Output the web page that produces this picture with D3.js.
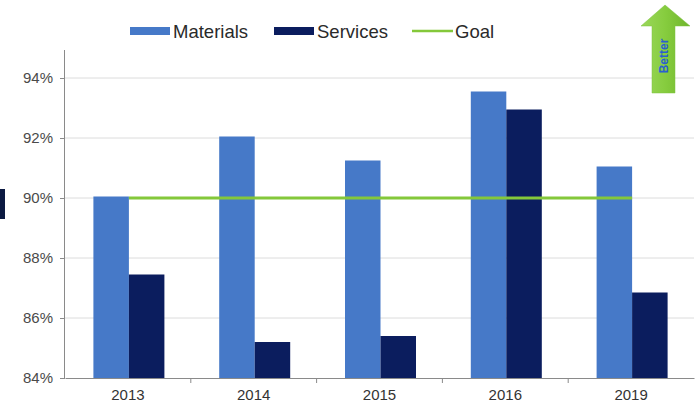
<!DOCTYPE html>
<html>
<head>
<meta charset="utf-8">
<script src="https://cdn.jsdelivr.net/npm/d3@7"></script>
<style>
	body { margin: 0; background: #fff; }
	.c-svg { width: 699px; height: 405px; }
	text { font-family: "Liberation Sans", Arial, sans-serif; }
</style>
</head>
<body>
<div class="c-svg"></div>
<script>
//DATA
//-------------------------------------------------------------------------
const years = ["2013", "2014", "2015", "2016", "2019"];
const materials = [90.05, 92.05, 91.25, 93.55, 91.05];
const services = [87.45, 85.2, 85.4, 92.95, 86.85];
const goal = [90, 90, 90, 90, 90];
const yTicks = [84, 86, 88, 90, 92, 94];
const seriesNames = ["Materials", "Services", "Goal"];

//OPTS
//-------------------------------------------------------------------------
const opts = {
	width: 699,
	height: 405,
	margin: { top: 48, right: 5, bottom: 27, left: 65 }
};
const colors = { Materials: "#4679c8", Services: "#0b1d5e", Goal: "#84c83a" };

const svg = d3.select(".c-svg")
	.append("svg")
	.attr("width", opts.width)
	.attr("height", opts.height);

//scales
const x = d3.scaleBand()
	.domain(years)
	.range([opts.margin.left, opts.width - opts.margin.right]);

const xSub = d3.scaleBand()
	.domain(["Materials", "Services"])
	.range([0, 71]);

const y = d3.scaleLinear()
	.domain([84, 94])
	.range([378, 78]);

//GRID
//-------------------------------------------------------------------------
svg.append("g")
	.selectAll("line")
	.data(yTicks.slice(1))
	.join("line")
	.attr("x1", opts.margin.left)
	.attr("x2", opts.width - opts.margin.right)
	.attr("y1", d => y(d))
	.attr("y2", d => y(d))
	.attr("stroke", "#dcdcdc")
	.attr("stroke-width", 1);

//AXIS
//-------------------------------------------------------------------------
const yAxis = d3.axisLeft(y)
	.tickValues(yTicks)
	.tickSize(5)
	.tickFormat(d => d + "%");

const gy = svg.append("g")
	.attr("transform", `translate(${opts.margin.left} 0)`)
	.call(yAxis);
gy.select(".domain").attr("stroke", "#8a8a8a").attr("d", `M-0.5,${y(84)}V50`);
gy.selectAll(".tick line").attr("stroke", "#8a8a8a");
gy.selectAll("text")
	.attr("x", -12)
	.attr("fill", "#4a4a4a")
	.style("font-size", "15px");

const xAxis = d3.axisBottom(x)
	.tickSize(0)
	.tickSizeOuter(0);

const gx = svg.append("g")
	.attr("transform", `translate(0 ${y(84)})`)
	.call(xAxis);
gx.select(".domain").attr("stroke", "#8a8a8a");
gx.selectAll("text")
	.attr("y", 11)
	.attr("fill", "#333")
	.style("font-size", "15px");

//category boundary ticks
gx.append("g")
	.selectAll("line")
	.data(years.slice(1))
	.join("line")
	.attr("x1", d => x(d))
	.attr("x2", d => x(d))
	.attr("y1", 0)
	.attr("y2", 5)
	.attr("stroke", "#8a8a8a");

//BARS
//-------------------------------------------------------------------------
const groupOffset = (x.bandwidth() - 71) / 2 + 1;
const rows = years.map((yr, i) => ({ year: yr, Materials: materials[i], Services: services[i] }));

svg.append("g")
	.selectAll("g")
	.data(rows)
	.join("g")
	.attr("transform", d => `translate(${x(d.year) + groupOffset} 0)`)
	.selectAll("rect")
	.data(d => ["Materials", "Services"].map(k => ({ key: k, value: d[k] })))
	.join("rect")
	.attr("x", d => xSub(d.key))
	.attr("width", xSub.bandwidth())
	.attr("y", d => y(d.value))
	.attr("height", d => y(84) - y(d.value))
	.attr("fill", d => colors[d.key]);

//GOAL LINE
//-------------------------------------------------------------------------
const line = d3.line()
	.x((d, i) => x(years[i]) + x.bandwidth() / 2 + 1)
	.y(d => y(d));

svg.append("path")
	.datum(goal)
	.attr("d", line)
	.attr("fill", "none")
	.attr("stroke", colors.Goal)
	.attr("stroke-width", 3);

//LEGEND
//-------------------------------------------------------------------------
const legendX = [130, 274, 412];
const legend = svg.append("g")
	.selectAll("g")
	.data(seriesNames)
	.join("g")
	.attr("transform", (d, i) => `translate(${legendX[i]} 31)`);

legend.filter(d => d !== "Goal")
	.append("rect")
	.attr("x", 0)
	.attr("y", -4)
	.attr("width", 40)
	.attr("height", 8)
	.attr("fill", d => colors[d]);

legend.filter(d => d === "Goal")
	.append("line")
	.attr("x1", 0)
	.attr("x2", 41)
	.attr("stroke", colors.Goal)
	.attr("stroke-width", 2.5);

legend.append("text")
	.attr("x", 43)
	.attr("y", 6.5)
	.attr("fill", "#2a2a2a")
	.style("font-size", "18.5px")
	.text(d => d);

//BETTER ARROW
//-------------------------------------------------------------------------
const arrowGrad = svg.append("defs")
	.append("linearGradient")
	.attr("id", "arrowGrad")
	.attr("x1", "0").attr("x2", "1").attr("y1", "0").attr("y2", "0");
arrowGrad.append("stop").attr("offset", "0%").attr("stop-color", "#9bd85a");
arrowGrad.append("stop").attr("offset", "50%").attr("stop-color", "#86cc3e");
arrowGrad.append("stop").attr("offset", "100%").attr("stop-color", "#6fb52c");

svg.append("path")
	.attr("d", "M665,5 L690,26 L675,26 L675,93 L652,93 L652,26 L641,26 Z")
	.attr("fill", "url(#arrowGrad)")
	.attr("stroke", "#7cc040")
	.attr("stroke-width", 0.5);

svg.append("text")
	.attr("transform", "translate(667.5 56) rotate(-90)")
	.attr("text-anchor", "middle")
	.attr("fill", "#2a5fd0")
	.style("font-size", "12px")
	.style("font-weight", "bold")
	.text("Better");

//left edge artefact
svg.append("rect")
	.attr("x", 0)
	.attr("y", 189)
	.attr("width", 5)
	.attr("height", 30)
	.attr("fill", "#0c1a42");
</script>
</body>
</html>
